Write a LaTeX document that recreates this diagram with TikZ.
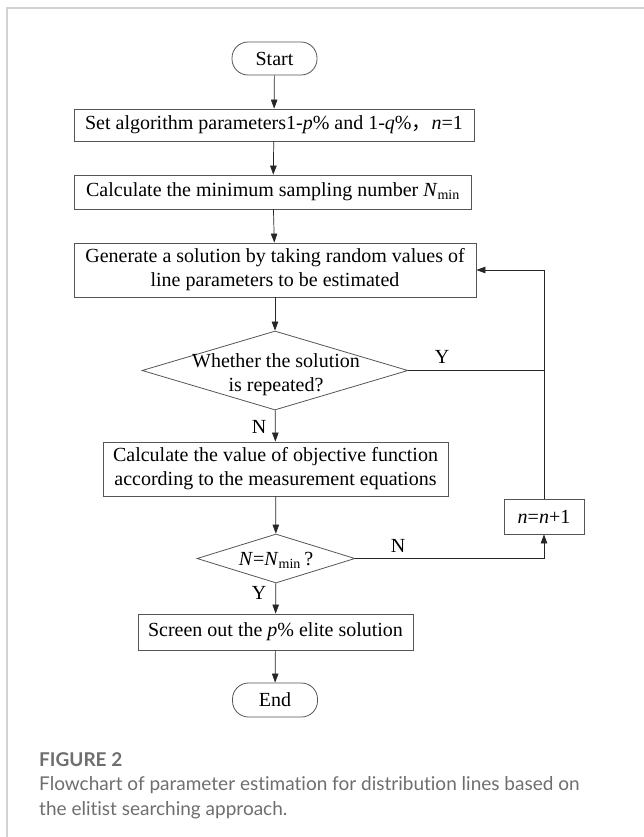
\documentclass[tikz,border=0pt]{standalone}
\usepackage{fontspec}
\setmainfont{Liberation Serif}
\newfontfamily\capfont[Ligatures=NoCommon]{Lato}
\newfontfamily\cjk{Noto Sans CJK SC}
\usetikzlibrary{arrows.meta,shapes.geometric}
\definecolor{linec}{RGB}{85,85,85}
\definecolor{capgray}{RGB}{110,110,110}
\definecolor{framec}{RGB}{210,210,210}
\begin{document}
\begin{tikzpicture}[x=1pt,y=-1pt,
  box/.style={draw=linec, line width=0.8pt, rectangle, inner sep=0pt, align=center, font=\fontsize{20}{24}\selectfont},
  term/.style={box, rounded corners=16pt},
  dia/.style={draw=linec, line width=0.8pt, diamond, inner sep=0pt},
  txt/.style={font=\fontsize{20}{24}\selectfont, align=center, inner sep=0pt},
  lbl/.style={font=\fontsize{20}{24}\selectfont, inner sep=0pt},
  arr/.style={draw=black!85, line width=0.7pt, -{Triangle[length=9pt,width=6.5pt]}},
  ln/.style={draw=black!85, line width=0.7pt},
  captext/.style={font=\capfont\fontsize{19}{22}\selectfont, anchor=west, inner sep=0pt, text=capgray}
]
\useasboundingbox (0,0) rectangle (644,837);
\draw[framec, line width=1.5pt] (7,837) -- (7,8) -- (644,8);

\node[term, minimum width=85pt, minimum height=33pt] (start) at (274.5,58.5) {Start};
\node[box, minimum width=400pt, minimum height=32pt] (set) at (274,125) {Set algorithm parameters1-\textit{p}\% and 1-\textit{q}\%{\cjk ，}\textit{n}=1};
\node[box, minimum width=397pt, minimum height=34pt] (cmin) at (273,192) {Calculate the minimum sampling number \textit{N}\textsubscript{min}};
\node[box, minimum width=402pt, minimum height=54pt] (gen) at (275,270) {Generate a solution by taking random values of\\line parameters to be estimated};
\node[dia, minimum width=266pt, minimum height=79pt] (d1) at (275,370.5) {};
\node[txt] at (276,375) {Whether the solution\\is repeated?};
\node[box, minimum width=345pt, minimum height=54pt] (cv) at (275.5,469) {Calculate the value of objective function\\according to the measurement equations};
\node[dia, minimum width=158pt, minimum height=49pt] (d2) at (276,558.5) {};
\node[txt] at (276,560) {\textit{N}=\textit{N}\textsubscript{min}\,?};
\node[box, minimum width=80pt, minimum height=35pt] (inc) at (544,516.5) {\textit{n}=\textit{n}+1};
\node[box, minimum width=275pt, minimum height=36pt] (scr) at (275.5,632) {Screen out the \textit{p}\% elite solution};
\node[term, minimum width=85pt, minimum height=34pt] (end) at (275,700) {End};

\coordinate (j1) at (544,370.5);
\coordinate (j2) at (544,558.5);

\draw[arr] (start) -- (set);
\draw[arr] (set) -- (cmin);
\draw[arr] (cmin) -- (gen);
\draw[arr] (gen) -- (d1);
\draw[arr] (d1) -- (cv);
\draw[arr] (cv) -- (d2);
\draw[arr] (d2) -- (scr);
\draw[arr] (scr) -- (end);
\draw[ln] (d1.east) -- (j1);
\draw[arr] (j1) |- (gen.east);
\draw[ln] (d2.east) -- (j2);
\draw[arr] (j2) -- (inc.south);
\draw[ln] (inc.north) -- (j1);

\node[lbl] (ly) at (442,357) {Y};
\node[lbl] (ln1) at (259,427) {N};
\node[lbl] (ln2) at (398,546) {N};
\node[lbl] (ly2) at (259,593) {Y};

\node[captext, font=\capfont\bfseries\fontsize{19}{22}\selectfont] (fig) at (39,760) {FIGURE 2};
\node[captext] (c1) at (39,785) {Flowchart of parameter estimation for distribution lines based on};
\node[captext] (c2) at (39,810) {the elitist searching approach.};
\end{tikzpicture}
\end{document}
